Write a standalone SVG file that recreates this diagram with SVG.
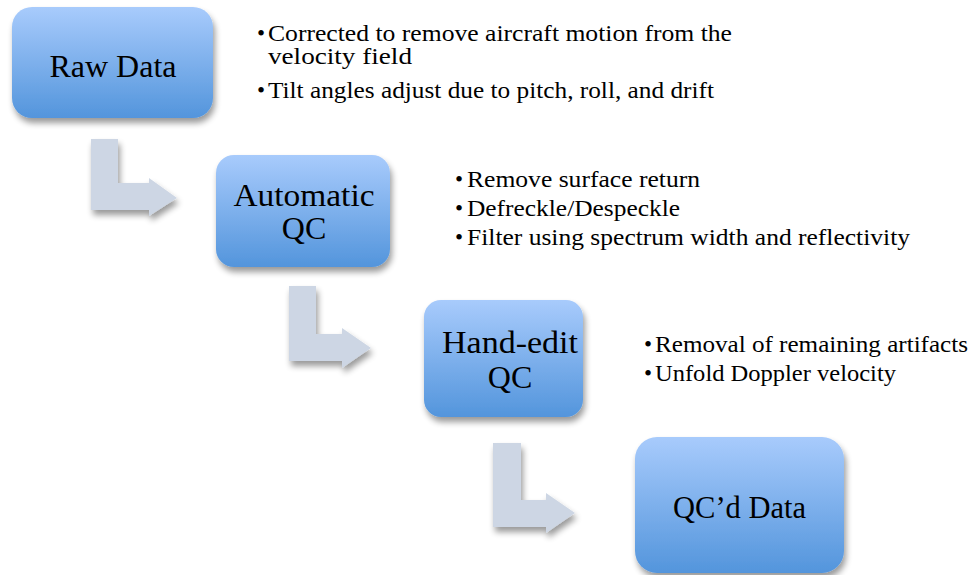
<svg xmlns="http://www.w3.org/2000/svg" width="976" height="575" viewBox="0 0 976 575">
<defs>
<linearGradient id="boxg" x1="0" y1="0" x2="0" y2="1">
<stop offset="0" stop-color="#a8cbfc"/>
<stop offset="1" stop-color="#5395dc"/>
</linearGradient>
<filter id="sh" x="-20%" y="-20%" width="140%" height="150%">
<feGaussianBlur in="SourceAlpha" stdDeviation="3"/>
<feOffset dx="2" dy="5" result="b"/>
<feComponentTransfer><feFuncA type="linear" slope="0.4"/></feComponentTransfer>
<feMerge><feMergeNode/><feMergeNode in="SourceGraphic"/></feMerge>
</filter>
</defs>
<style>
.box{fill:url(#boxg);filter:url(#sh)}
.lbl{font-family:"Liberation Serif","DejaVu Serif",serif;font-size:32px;fill:#000;text-anchor:middle}
.bul{font-family:"Liberation Serif","DejaVu Serif",serif;font-size:23px;fill:#000}
.arr{fill:#cdd6e4;filter:url(#sh)}
</style>
<rect width="976" height="575" fill="#ffffff"/>
<g id="connectors">
<path class="arr" d="M91,139 H118 V183 H149 V178 L177,198 L149,216 V210 H91 Z"/>
<path class="arr" d="M289,286 H316 V334 H342 V328 L371,348 L342,368 V361 H289 Z"/>
<path class="arr" d="M493,443 H521 V500 H546 V493 L575,513 L546,533 V527 H493 Z"/>
</g>
<g id="raw-data">
<rect class="box" x="12" y="7" width="201" height="111" rx="20"/>
<text class="lbl" x="113" y="77" textLength="127" lengthAdjust="spacingAndGlyphs">Raw Data</text>
</g>
<g id="automatic-qc">
<rect class="box" x="216" y="155" width="174" height="112" rx="18"/>
<text class="lbl" x="304" y="206" textLength="141" lengthAdjust="spacingAndGlyphs">Automatic</text>
<text class="lbl" x="304" y="239">QC</text>
</g>
<g id="hand-edit-qc">
<rect class="box" x="424" y="300" width="159" height="117" rx="17"/>
<text class="lbl" x="510" y="353" textLength="136" lengthAdjust="spacingAndGlyphs">Hand-edit</text>
<text class="lbl" x="510" y="388">QC</text>
</g>
<g id="qcd-data">
<rect class="box" x="635" y="437" width="209" height="136" rx="22"/>
<text class="lbl" x="739.5" y="518" textLength="133" lengthAdjust="spacingAndGlyphs">QC’d Data</text>
</g>
<g id="raw-notes">
<text class="bul" x="257" y="41">•</text>
<text class="bul" x="268" y="41" textLength="464" lengthAdjust="spacingAndGlyphs">Corrected to remove aircraft motion from the</text>
<text class="bul" x="268" y="64" textLength="144" lengthAdjust="spacingAndGlyphs">velocity field</text>
<text class="bul" x="257" y="98">•</text>
<text class="bul" x="268" y="98" textLength="446" lengthAdjust="spacingAndGlyphs">Tilt angles adjust due to pitch, roll, and drift</text>
</g>
<g id="auto-notes">
<text class="bul" x="455" y="187">•</text>
<text class="bul" x="467" y="187" textLength="233" lengthAdjust="spacingAndGlyphs">Remove surface return</text>
<text class="bul" x="455" y="216">•</text>
<text class="bul" x="467" y="216" textLength="213" lengthAdjust="spacingAndGlyphs">Defreckle/Despeckle</text>
<text class="bul" x="455" y="245">•</text>
<text class="bul" x="467" y="245" textLength="443" lengthAdjust="spacingAndGlyphs">Filter using spectrum width and reflectivity</text>
</g>
<g id="hand-notes">
<text class="bul" x="644" y="352">•</text>
<text class="bul" x="655" y="352" textLength="313" lengthAdjust="spacingAndGlyphs">Removal of remaining artifacts</text>
<text class="bul" x="644" y="381">•</text>
<text class="bul" x="655" y="381" textLength="241" lengthAdjust="spacingAndGlyphs">Unfold Doppler velocity</text>
</g>
</svg>
